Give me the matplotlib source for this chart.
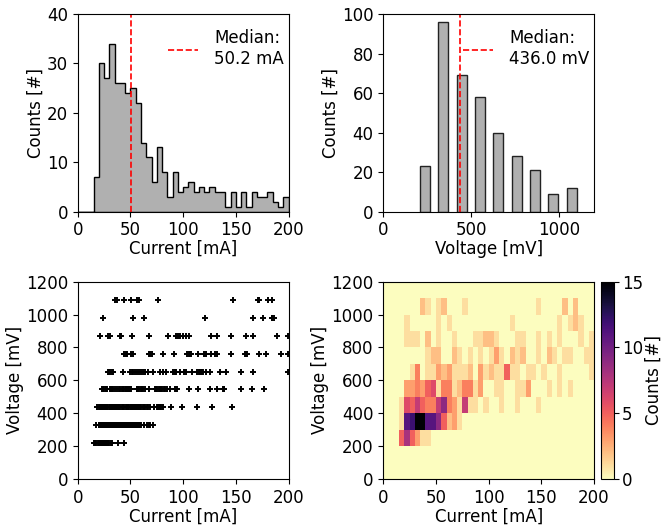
import numpy as np
import matplotlib
matplotlib.use("Agg")
import matplotlib.pyplot as plt

# measured current [mA] of every sample, grouped by the voltage step [mV]
i_at_218 = [15.3, 16.0, 16.8, 17.6, 18.9,
            20.1, 20.7, 21.3, 21.9, 22.5, 23.1, 23.8, 24.5,
            25.2, 26.0, 26.9, 27.9, 29.0,
            30.1, 31.3, 32.3, 38.0, 44.0]
i_at_327 = [17.4,
            20.2, 20.6, 21.0, 21.5, 21.9, 22.3, 22.8, 23.2, 23.7, 24.1, 24.6,
            25.1, 25.5, 25.9, 26.3, 26.7, 27.1, 27.5, 27.9, 28.3, 28.7, 29.1, 29.6,
            30.0, 30.3, 30.6, 31.0, 31.3, 31.6, 32.0, 32.3, 32.6, 33.0, 33.3, 33.6,
            34.0, 34.3, 34.7,
            35.0, 35.3, 35.6, 36.0, 36.3, 36.6, 37.0, 37.3, 37.6, 38.0, 38.3, 38.6,
            39.0, 39.3, 39.7,
            40.2, 40.6, 41.0, 41.5, 41.9, 42.3, 42.8, 43.2, 43.7, 44.1, 44.6,
            45.2, 45.6, 46.0, 46.5, 46.9, 47.3, 47.8, 48.2, 48.7, 49.1, 49.6,
            50.0, 50.2, 50.2, 51.0, 51.7, 52.4, 53.1, 53.8, 54.5,
            55.4, 56.3, 57.2, 58.1, 59.0,
            60.4, 63.2, 65.8, 67.4, 69.0, 71.0]
i_at_436 = [18.0,
            20.5, 21.3, 22.1, 22.9, 23.7, 24.5,
            25.4, 26.3, 27.2, 28.1, 29.0,
            30.2, 30.9, 31.6, 32.3, 33.0, 33.7, 34.4,
            35.4, 36.3, 37.2, 38.1, 39.0,
            40.5, 41.7, 42.9, 44.1,
            45.5, 46.7, 47.9, 49.1,
            50.1, 50.2, 51.0, 51.8, 52.6, 53.4, 54.2,
            55.2, 55.7, 56.2, 56.7, 57.2, 57.7, 58.2, 58.7, 59.2,
            60.5, 61.6, 62.7, 63.8,
            65.5, 67.0, 68.5, 72.8,
            75.3, 75.9, 76.5, 77.1, 77.7, 78.3, 78.9,
            81.3, 88.3, 99.3, 112.9, 127.8, 146.8]
i_at_545 = [22.8, 23.6, 24.3, 25.9, 27.0, 28.1,
            30.7, 31.5, 32.3, 33.8, 35.4, 37.0, 39.5,
            40.5, 41.7, 42.5, 43.3, 44.6,
            45.4, 46.2, 47.0, 47.8, 48.7, 49.5, 50.6,
            55.8, 56.6, 57.4, 58.2, 60.4, 61.3, 62.3, 63.5,
            67.7, 73.4, 74.5, 75.6, 76.8, 78.1, 79.2,
            80.3, 81.5, 82.6, 84.5, 87.6, 92.0, 93.3, 94.2,
            105.2, 114.5, 125.2, 132.0, 138.3, 138.8, 139.2,
            155.3, 165.8, 176.5]
i_at_654 = [28.4, 30.0, 31.0, 32.3, 33.5, 42.7, 49.7, 51.2, 52.5, 54.4,
            56.0, 58.2, 60.1, 61.7, 63.9, 67.0, 71.8, 78.1, 81.3, 83.8,
            90.8, 92.4, 93.5, 97.1, 101.0, 102.5, 108.8, 113.0, 115.1, 116.0,
            117.0, 118.0, 119.2, 121.5, 125.5, 135.1, 140.5, 154.7, 166.4, 199.3]
i_at_763 = [44.3, 45.8, 46.5, 50.6, 52.2, 67.7, 68.5, 70.8, 81.3, 91.7,
            103.4, 105.6, 106.5, 107.6, 113.9, 120.2, 122.0, 126.5, 130.3, 132.6,
            145.2, 158.5, 159.5, 161.0, 171.8, 178.4, 193.0, 199.3]
i_at_872 = [21.2, 28.5, 30.5, 40.0, 41.5, 51.2, 67.7, 85.4, 93.3, 95.5,
            97.1, 100.3, 102.5, 105.5, 126.2, 132.2, 145.2, 159.4, 166.4, 189.5,
            199.3]
i_at_981 = [23.7, 52.8, 63.0, 120.5, 166.1, 175.6, 184.0, 184.6, 186.0]
i_at_1090 = [35.4, 37.0, 44.0, 51.0, 56.0, 58.2, 75.9, 147.1, 171.5, 172.2,
             180.6, 184.1]

voltage_steps = [218, 327, 436, 545, 654, 763, 872, 981, 1090]
current_groups = [i_at_218, i_at_327, i_at_436, i_at_545, i_at_654,
                  i_at_763, i_at_872, i_at_981, i_at_1090]

current = np.concatenate([np.array(g, dtype=float) for g in current_groups])
voltage = np.concatenate([np.full(len(g), v, dtype=float)
                          for g, v in zip(current_groups, voltage_steps)])

plt.rcParams["font.size"] = 12
plt.rcParams["axes.labelpad"] = 1.5
fig = plt.figure(figsize=(6.61, 5.27), dpi=100)

ax_i = fig.add_axes([0.1176, 0.5983, 0.3189, 0.3751])
ax_v = fig.add_axes([0.5799, 0.5983, 0.3188, 0.3751])
ax_sc = fig.add_axes([0.1176, 0.0909, 0.3189, 0.3746])
ax_h2 = fig.add_axes([0.5799, 0.0909, 0.3188, 0.3746])
cax = fig.add_axes([0.9092, 0.0909, 0.0201, 0.3746])

cur_bins = np.arange(0, 205, 5)
volt_bins = np.linspace(185, 1125, 10)
leg_kw = dict(loc="upper right", bbox_to_anchor=(1.05, 1.0), frameon=False,
              handlelength=1.8, handletextpad=1.0)

# current histogram
ax_i.hist(current, bins=cur_bins, histtype="stepfilled",
          facecolor="#b0b0b0", edgecolor="black", linewidth=1.0)
med_i = np.median(current)
ax_i.axvline(med_i, color="red", linestyle="--", linewidth=1.2,
             label=f"Median:\n{med_i:.1f} mA")
ax_i.set_xlim(0, 200)
ax_i.set_ylim(0, 40)
ax_i.set_xlabel("Current [mA]", labelpad=0.5)
ax_i.set_ylabel("Counts [#]")
ax_i.legend(**leg_kw)

# voltage histogram
ax_v.hist(voltage, bins=volt_bins, rwidth=0.55,
          facecolor="#b0b0b0", edgecolor="#222222", linewidth=1.0)
med_v = np.median(voltage)
ax_v.axvline(med_v, color="red", linestyle="--", linewidth=1.2,
             label=f"Median:\n{med_v:.1f} mV")
ax_v.set_xlim(0, 1200)
ax_v.set_ylim(0, 100)
ax_v.set_xticks([0, 500, 1000])
ax_v.set_xlabel("Voltage [mV]", labelpad=0.5)
ax_v.set_ylabel("Counts [#]")
ax_v.legend(**leg_kw)

# scatter
ax_sc.scatter(current, voltage, marker="+", c="black", s=14, linewidths=1.4)
ax_sc.set_xlim(0, 200)
ax_sc.set_ylim(0, 1200)
ax_sc.set_yticks(np.arange(0, 1201, 200))
ax_sc.set_xlabel("Current [mA]", labelpad=0.5)
ax_sc.set_ylabel("Voltage [mV]")

# 2d histogram
_, _, _, mesh = ax_h2.hist2d(current, voltage,
                             bins=[cur_bins, np.arange(0, 1300, 100)],
                             cmap="magma_r")
ax_h2.set_xlim(0, 200)
ax_h2.set_ylim(0, 1200)
ax_h2.set_yticks(np.arange(0, 1201, 200))
ax_h2.set_xlabel("Current [mA]", labelpad=0.5)
ax_h2.set_ylabel("Voltage [mV]")
cb = fig.colorbar(mesh, cax=cax)
cb.set_ticks([0, 5, 10, 15])
cb.ax.tick_params(pad=2)
cb.set_label("Counts [#]", labelpad=1)

fig.savefig("out.png", dpi=100)
